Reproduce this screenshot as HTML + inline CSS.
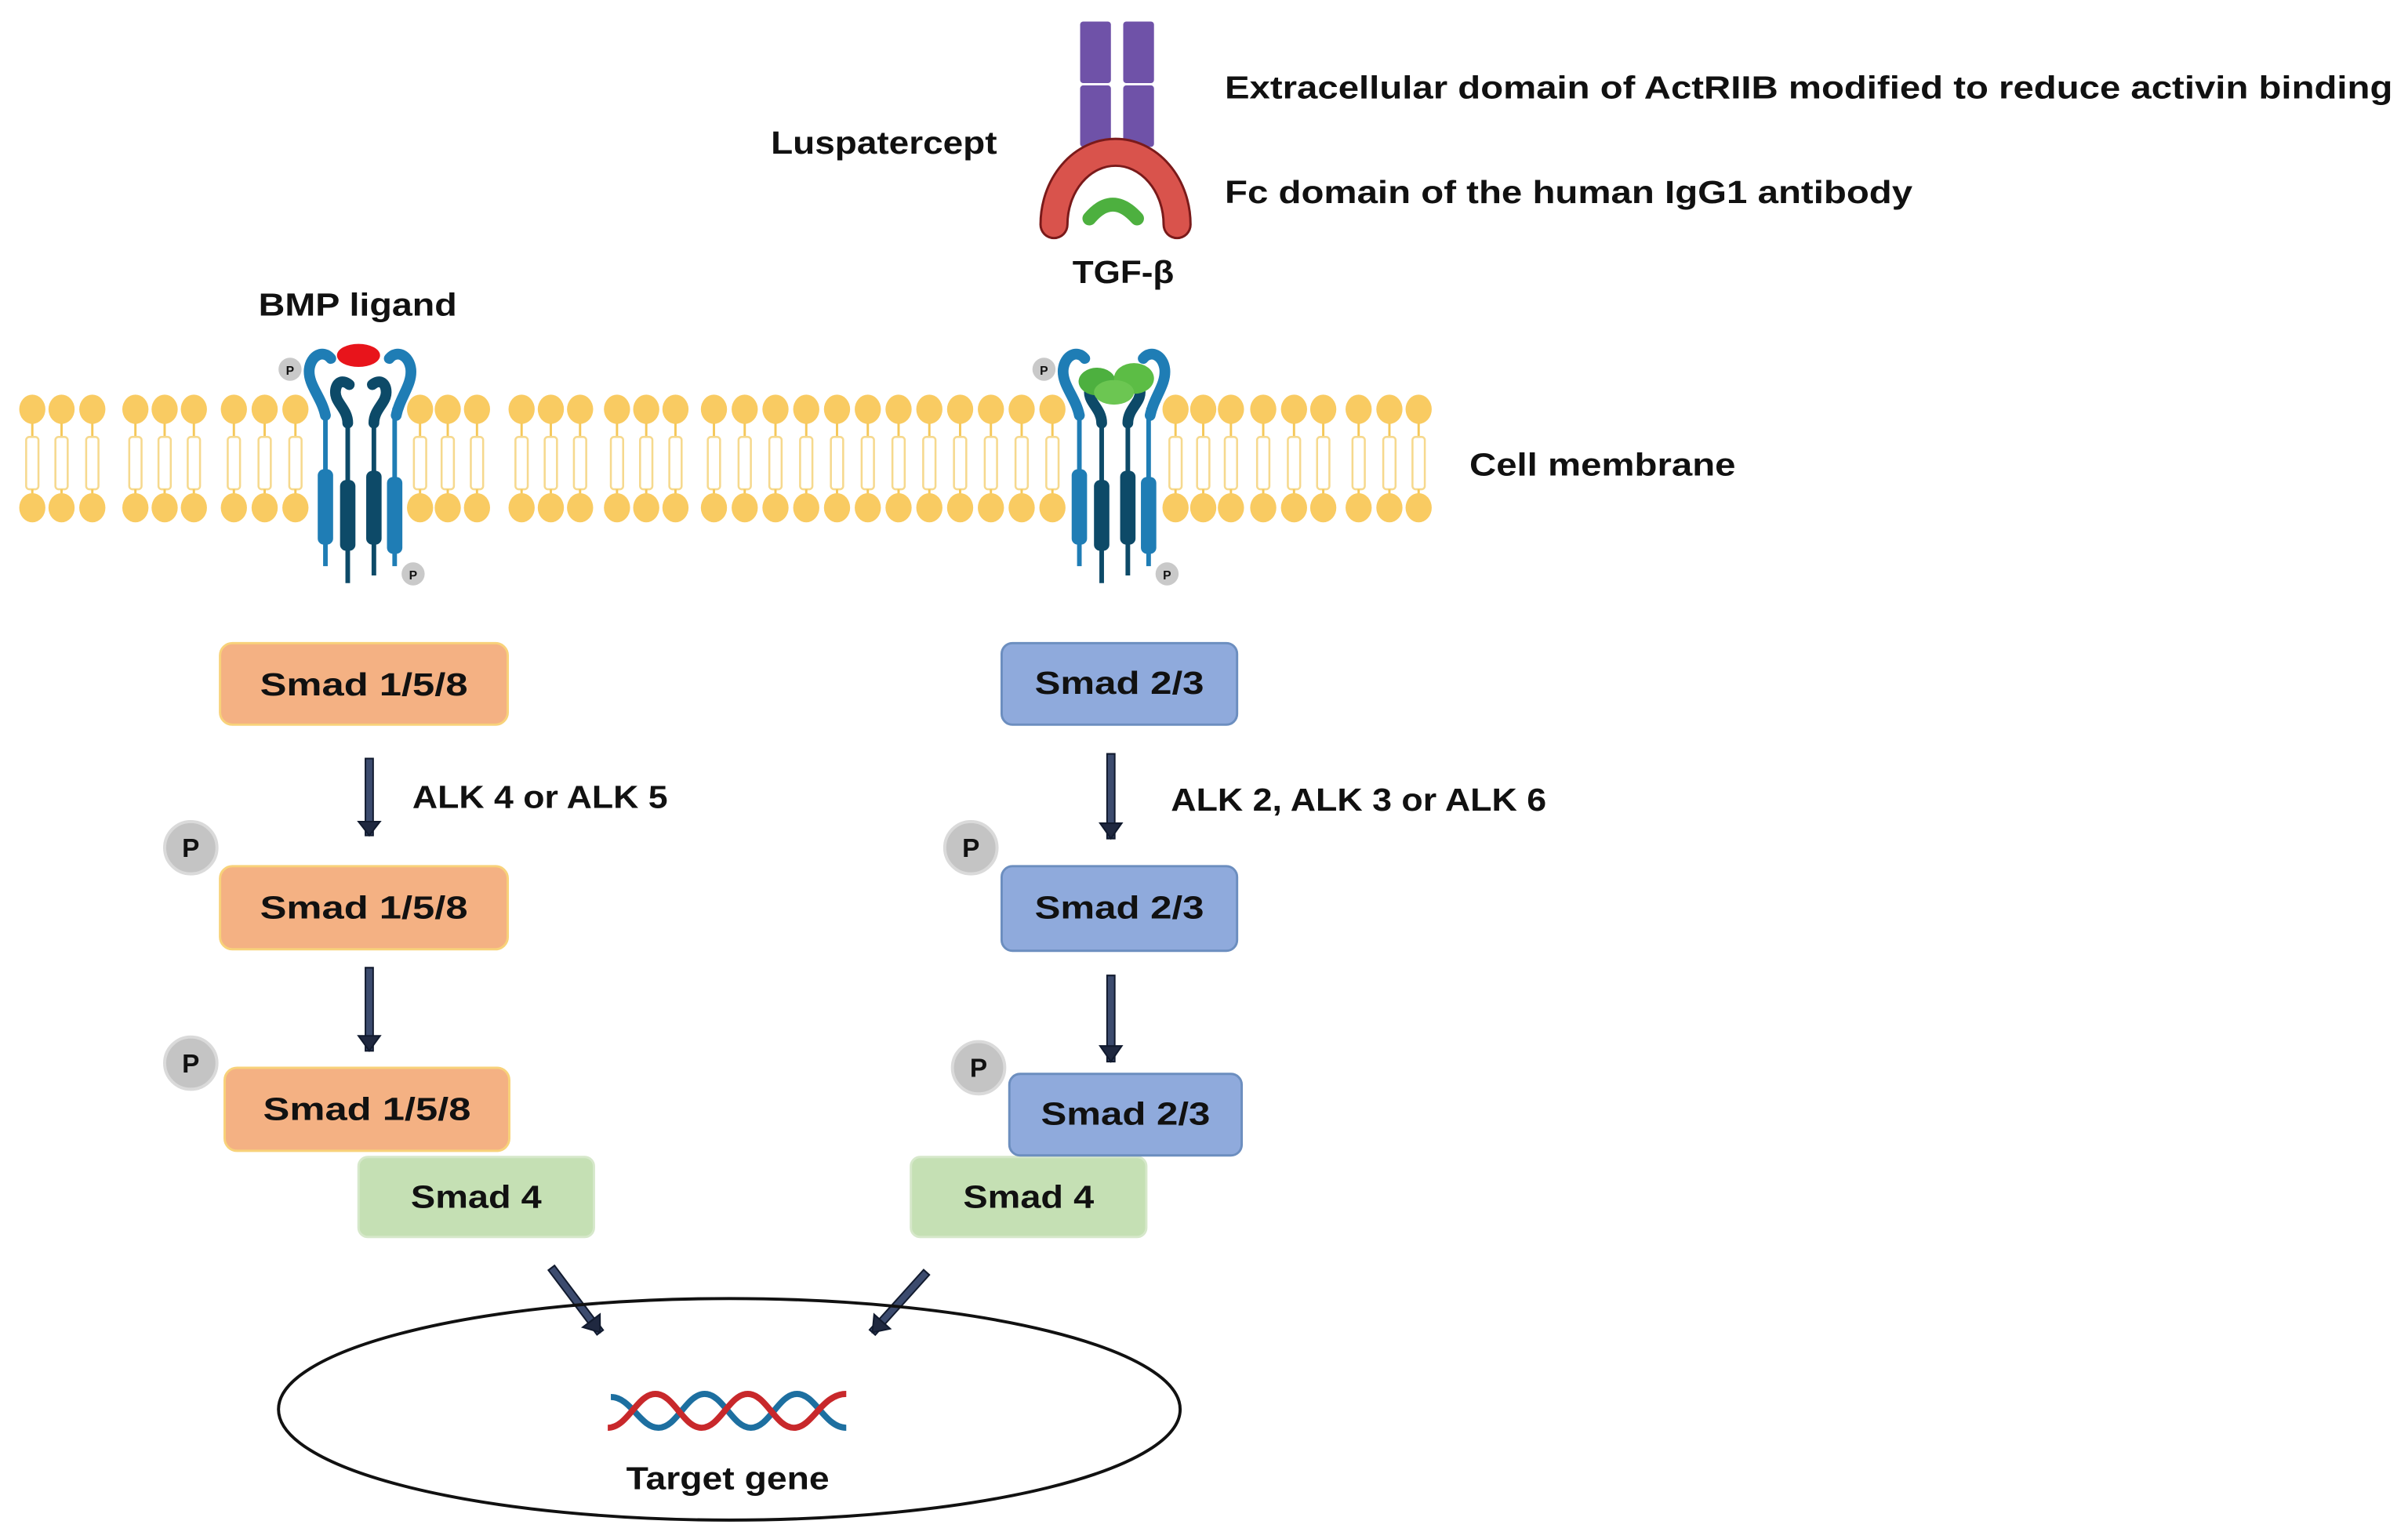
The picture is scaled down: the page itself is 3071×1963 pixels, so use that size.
<!DOCTYPE html>
<html><head><meta charset="utf-8"><style>
html,body{margin:0;padding:0;background:#fff;}
svg{display:block;}
text{font-family:"Liberation Sans",sans-serif;font-weight:bold;fill:#111;}
</style></head><body>
<svg width="3071" height="1963" viewBox="0 0 1565 1000.3" preserveAspectRatio="none" xmlns="http://www.w3.org/2000/svg">
<defs>
<g id="lip">
 <ellipse cx="0" cy="266" rx="8.5" ry="9.5" fill="#F9CB62"/>
 <line x1="0" y1="275" x2="0" y2="284" stroke="#F5C85A" stroke-width="1.5"/>
 <rect x="-4" y="284" width="8" height="34" rx="2" fill="none" stroke="#F6D98E" stroke-width="1.3"/>
 <line x1="0" y1="318" x2="0" y2="322" stroke="#F5C85A" stroke-width="1.5"/>
 <ellipse cx="0" cy="330" rx="8.5" ry="9.5" fill="#F9CB62"/>
</g>
<g id="rec">
 <path d="M211.5,270 C209,258 200,250 201,240 C202,231 210,227 215,233" fill="none" stroke="#1F7DB5" stroke-width="7" stroke-linecap="round"/>
 <path d="M257.5,270 C260,258 268,250 267,240 C266,231 258,227 253,233" fill="none" stroke="#1F7DB5" stroke-width="7" stroke-linecap="round"/>
 <line x1="211.5" y1="265" x2="211.5" y2="368" stroke="#1F7DB5" stroke-width="3"/>
 <rect x="206.5" y="305" width="10" height="49" rx="4" fill="#1F7DB5"/>
 <line x1="256.5" y1="265" x2="256.5" y2="368" stroke="#1F7DB5" stroke-width="3"/>
 <rect x="251.5" y="310" width="10" height="50" rx="4" fill="#1F7DB5"/>
 <path d="M226,275 C226,266 218,262 218,255 C218,249 222,246 227,250" fill="none" stroke="#0D4A68" stroke-width="7" stroke-linecap="round"/>
 <path d="M243,275 C243,266 251,262 251,255 C251,249 247,246 242,250" fill="none" stroke="#0D4A68" stroke-width="7" stroke-linecap="round"/>
 <line x1="226" y1="270" x2="226" y2="379" stroke="#0D4A68" stroke-width="3"/>
 <rect x="221" y="312" width="10" height="46" rx="4" fill="#0D4A68"/>
 <line x1="243" y1="270" x2="243" y2="374" stroke="#0D4A68" stroke-width="3"/>
 <rect x="238" y="306" width="10" height="48" rx="4" fill="#0D4A68"/>
 <circle cx="188.5" cy="240" r="7.5" fill="#C9C9C9"/><text x="188.5" y="243.5" font-size="8" text-anchor="middle" fill="#555">P</text>
 <circle cx="268.5" cy="373" r="7.5" fill="#C9C9C9"/><text x="268.5" y="376.5" font-size="8" text-anchor="middle" fill="#555">P</text>
</g>
<g id="arr">
 <polygon points="-2.5,0 2.5,0 2.5,-50 -2.5,-50" fill="#3C4B6E" stroke="#111A2E" stroke-width="1"/>
 <polygon points="-7,-9 7,-9 0,0" fill="#1F2840" stroke="#111A2E" stroke-width="1"/>
</g>
</defs>

<g>
<use href="#lip" x="21"/><use href="#lip" x="40"/><use href="#lip" x="60"/>
<use href="#lip" x="88"/><use href="#lip" x="107"/><use href="#lip" x="126"/>
<use href="#lip" x="152"/><use href="#lip" x="172"/><use href="#lip" x="192"/>
<use href="#lip" x="273"/><use href="#lip" x="291"/><use href="#lip" x="310"/>
<use href="#lip" x="339"/><use href="#lip" x="358"/><use href="#lip" x="377"/>
<use href="#lip" x="401"/><use href="#lip" x="420"/><use href="#lip" x="439"/>
<use href="#lip" x="464"/><use href="#lip" x="484"/><use href="#lip" x="504"/><use href="#lip" x="524"/>
<use href="#lip" x="544"/><use href="#lip" x="564"/><use href="#lip" x="584"/><use href="#lip" x="604"/>
<use href="#lip" x="624"/><use href="#lip" x="644"/><use href="#lip" x="664"/><use href="#lip" x="684"/>
<use href="#lip" x="764"/><use href="#lip" x="782"/><use href="#lip" x="800"/>
<use href="#lip" x="821"/><use href="#lip" x="841"/><use href="#lip" x="860"/>
<use href="#lip" x="883"/><use href="#lip" x="903"/><use href="#lip" x="922"/>
</g>

<use href="#rec"/>
<ellipse cx="233" cy="231" rx="14" ry="7.5" fill="#E8141B"/>
<use href="#rec" x="490"/>
<ellipse cx="713" cy="248" rx="12" ry="9" fill="#4DB03F"/>
<ellipse cx="737" cy="246" rx="13" ry="10" fill="#5CBD45"/>
<ellipse cx="724" cy="255" rx="13" ry="8" fill="#6CC652"/>

<rect x="702" y="14" width="20" height="40" rx="2" fill="#6F52A8"/>
<rect x="702" y="55.5" width="20" height="40" rx="2" fill="#6F52A8"/>
<rect x="730" y="14" width="20" height="40" rx="2" fill="#6F52A8"/>
<rect x="730" y="55.5" width="20" height="40" rx="2" fill="#6F52A8"/>
<path d="M685,146 A40,47 0 0 1 765,146" fill="none" stroke="#7A1A1A" stroke-width="19" stroke-linecap="round"/>
<path d="M685,146 A40,47 0 0 1 765,146" fill="none" stroke="#D9534C" stroke-width="16" stroke-linecap="round"/>
<path d="M708,142 Q723,124 739,142" fill="none" stroke="#4DB03F" stroke-width="9" stroke-linecap="round"/>

<text x="501" y="100" font-size="21" textLength="147" lengthAdjust="spacingAndGlyphs">Luspatercept</text>
<text x="796" y="64" font-size="21" textLength="759" lengthAdjust="spacingAndGlyphs">Extracellular domain of ActRIIB modified to reduce activin binding</text>
<text x="796" y="132" font-size="21" textLength="447" lengthAdjust="spacingAndGlyphs">Fc domain of the human IgG1 antibody</text>
<text x="697" y="184" font-size="21" textLength="66" lengthAdjust="spacingAndGlyphs">TGF-β</text>
<text x="168" y="205" font-size="21" textLength="129" lengthAdjust="spacingAndGlyphs">BMP ligand</text>
<text x="955" y="309" font-size="21" textLength="173" lengthAdjust="spacingAndGlyphs">Cell membrane</text>
<text x="268" y="525" font-size="21" textLength="166" lengthAdjust="spacingAndGlyphs">ALK 4 or ALK 5</text>
<text x="761" y="527" font-size="21" textLength="244" lengthAdjust="spacingAndGlyphs">ALK 2, ALK 3 or ALK 6</text>

<g stroke="#F8D27A" stroke-width="1.5" fill="#F4B183">
<rect x="143" y="418" width="187" height="53" rx="8"/>
<rect x="143" y="563" width="187" height="54" rx="8"/>
<rect x="146" y="694" width="185" height="54" rx="8"/>
</g>
<g stroke="#D6E8CA" stroke-width="1.5" fill="#C5E0B4">
<rect x="233" y="752" width="153" height="52" rx="6"/>
<rect x="592" y="752" width="153" height="52" rx="6"/>
</g>
<g stroke="#6C8EBF" stroke-width="1.5" fill="#8FAADC">
<rect x="651" y="418" width="153" height="53" rx="7"/>
<rect x="651" y="563" width="153" height="55" rx="7"/>
<rect x="656" y="698" width="151" height="53" rx="7"/>
</g>
<g font-size="21">
<text x="236.5" y="452" text-anchor="middle" textLength="135" lengthAdjust="spacingAndGlyphs">Smad 1/5/8</text>
<text x="236.5" y="597" text-anchor="middle" textLength="135" lengthAdjust="spacingAndGlyphs">Smad 1/5/8</text>
<text x="238.5" y="728" text-anchor="middle" textLength="135" lengthAdjust="spacingAndGlyphs">Smad 1/5/8</text>
<text x="309.5" y="785" text-anchor="middle" textLength="85" lengthAdjust="spacingAndGlyphs">Smad 4</text>
<text x="668.5" y="785" text-anchor="middle" textLength="85" lengthAdjust="spacingAndGlyphs">Smad 4</text>
<text x="727.5" y="451" text-anchor="middle" textLength="110" lengthAdjust="spacingAndGlyphs">Smad 2/3</text>
<text x="727.5" y="597" text-anchor="middle" textLength="110" lengthAdjust="spacingAndGlyphs">Smad 2/3</text>
<text x="731.5" y="731" text-anchor="middle" textLength="110" lengthAdjust="spacingAndGlyphs">Smad 2/3</text>
</g>

<g>
<circle cx="124" cy="551" r="17" fill="#C4C4C4" stroke="#DADADA" stroke-width="2"/>
<circle cx="124" cy="691" r="17" fill="#C4C4C4" stroke="#DADADA" stroke-width="2"/>
<circle cx="631" cy="551" r="17" fill="#C4C4C4" stroke="#DADADA" stroke-width="2"/>
<circle cx="636" cy="694" r="17" fill="#C4C4C4" stroke="#DADADA" stroke-width="2"/>
<g font-size="17" text-anchor="middle">
<text x="124" y="557" fill="#333">P</text><text x="124" y="697" fill="#333">P</text>
<text x="631" y="557" fill="#333">P</text><text x="636" y="700" fill="#333">P</text>
</g>
</g>

<use href="#arr" transform="translate(240,543)"/>
<use href="#arr" transform="translate(240,683) scale(1,1.08)"/>
<use href="#arr" transform="translate(722,545) scale(1,1.1)"/>
<use href="#arr" transform="translate(722,690) scale(1,1.12)"/>
<use href="#arr" transform="translate(390,866) rotate(-37) scale(1,1.05)"/>
<use href="#arr" transform="translate(567,866) rotate(42) scale(1,1.05)"/>

<ellipse cx="474" cy="916" rx="293" ry="72" fill="none" stroke="#111" stroke-width="2"/>
<path d="M397,908 C410,908 416,928 428,928 C440,928 446,906 458,906 C470,906 476,928 488,928 C500,928 506,906 518,906 C530,906 536,928 550,928" fill="none" stroke="#1D6FA0" stroke-width="4"/>
<path d="M395,928 C408,928 414,906 426,906 C438,906 444,928 456,928 C468,928 474,906 486,906 C498,906 504,928 516,928 C528,928 534,906 550,906" fill="none" stroke="#C8282B" stroke-width="4"/>
<text x="407" y="968" font-size="21" textLength="132" lengthAdjust="spacingAndGlyphs">Target gene</text>
</svg>
</body></html>
